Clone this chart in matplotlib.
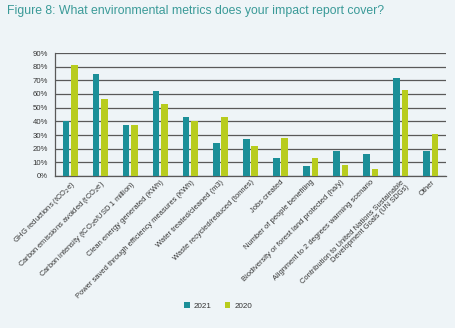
import matplotlib
matplotlib.use("Agg")
import matplotlib.pyplot as plt
import numpy as np

categories = [
    "GHG reductions (tCO$_2$e)",
    "Carbon emissions avoided (tCO$_2$e)",
    "Carbon intensity (tCO$_2$e/USD 1 million)",
    "Clean energy generated (KWh)",
    "Power saved through efficiency measures (KWh)",
    "Water treated/cleaned (m3)",
    "Waste recycled/reduced (tonnes)",
    "Jobs created",
    "Number of people benefiting",
    "Biodiversity or forest land protected (ha/y)",
    "Alignment to 2 degrees warming scenario",
    "Contribution to United Nations Sustainable\nDevelopment Goals (UN SDGs)",
    "Other",
]
v2021 = [40, 75, 37, 62, 43, 24, 27, 13, 7, 18, 16, 72, 18]
v2020 = [81, 56, 37, 53, 40, 43, 22, 28, 13, 8, 5, 63, 31]
yticks = [0, 10, 20, 30, 40, 50, 60, 70, 80, 90]

BG = "#eef4f7"
TEAL = "#1b8f98"
LIME = "#b8cc1e"

plt.rcParams['font.family'] = ['Liberation Sans', 'DejaVu Sans']

fig = plt.figure(figsize=(4.56, 3.28), dpi=100, facecolor=BG)
ax = fig.add_axes([55/456, 1 - 176/328, (446 - 55)/456, (176 - 53)/328])
ax.set_facecolor(BG)

x = np.arange(len(categories))
w = 0.22
ax.bar(x - 0.14, v2021, w, color=TEAL, label="2021", zorder=3)
ax.bar(x + 0.14, v2020, w, color=LIME, label="2020", zorder=3)

ax.set_xlim(-0.5, len(categories) - 0.5)
ax.set_ylim(0, 90)
ax.set_yticks(yticks)
ax.set_yticklabels([f"{t}%" for t in yticks], fontsize=5.6, color="#333333")
ax.yaxis.grid(True, color="#595959", linewidth=0.9, zorder=0)
for s in ["top", "right"]:
    ax.spines[s].set_visible(False)
ax.spines["left"].set_color("#595959")
ax.spines["bottom"].set_color("#595959")
ax.spines["left"].set_linewidth(0.9)
ax.spines["bottom"].set_linewidth(0.9)
ax.tick_params(axis="y", length=0, pad=5)
ax.tick_params(axis="x", length=0, pad=2)
ax.set_xticks(x)
ax.set_xticklabels(categories, rotation=45, ha="right", rotation_mode="anchor",
                   fontsize=5.4, color="#333333", linespacing=1.0)

fig.text(7/456, 1 - 11/328, "Figure 8: What environmental metrics does your impact report cover?",
         fontsize=8.8, color="#3a9a98", va="center", ha="left")

leg = fig.legend(loc="center", bbox_to_anchor=(218/456, 1 - 306/328), ncol=2,
                 frameon=False, fontsize=5.8, handlelength=0.7, handleheight=0.7,
                 handletextpad=0.5, columnspacing=1.6)
for t in leg.get_texts():
    t.set_color("#333333")

fig.savefig("out.png", dpi=100, facecolor=BG)
